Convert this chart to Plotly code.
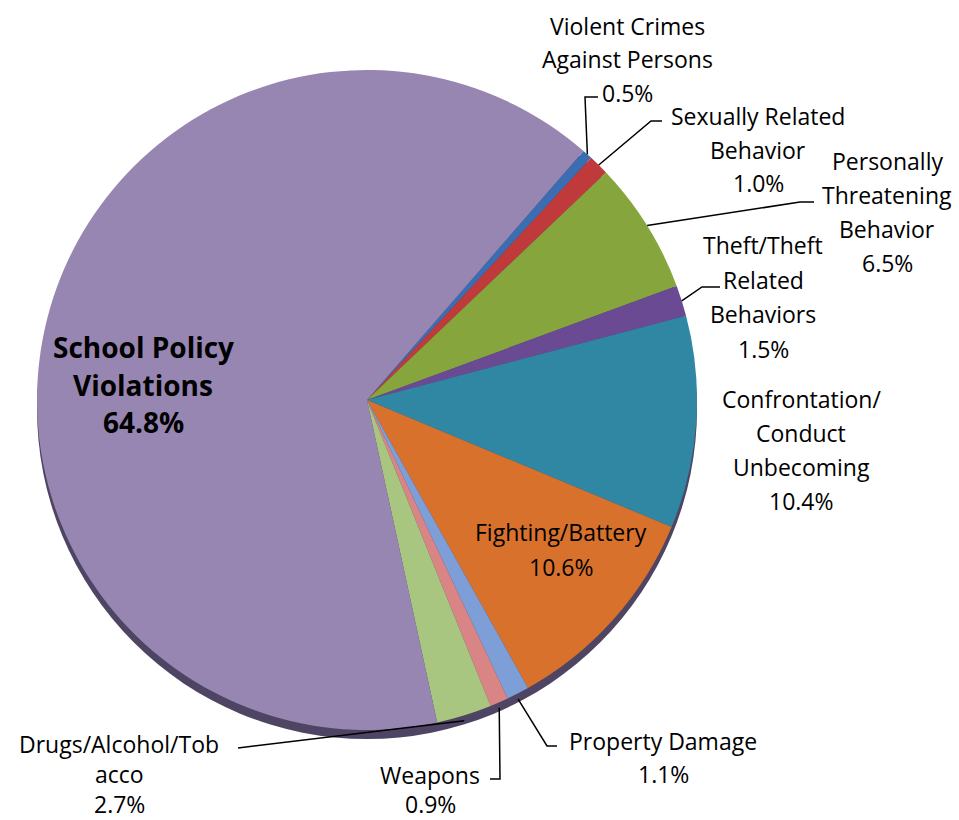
import math
import plotly.graph_objects as go

# ---------------- data ----------------
labels = [
    "Violent Crimes Against Persons",
    "Sexually Related Behavior",
    "Personally Threatening Behavior",
    "Theft/Theft Related Behaviors",
    "Confrontation/ Conduct Unbecoming",
    "Fighting/Battery",
    "Property Damage",
    "Weapons",
    "Drugs/Alcohol/Tobacco",
    "School Policy Violations",
]
values = [0.5, 1.0, 6.5, 1.5, 10.4, 10.6, 1.1, 0.9, 2.7, 64.8]
label_lines = [
    ["Violent Crimes", "Against Persons"],
    ["Sexually Related", "Behavior"],
    ["Personally", "Threatening", "Behavior"],
    ["Theft/Theft", "Related", "Behaviors"],
    ["Confrontation/", "Conduct", "Unbecoming"],
    ["Fighting/Battery"],
    ["Property Damage"],
    ["Weapons"],
    ["Drugs/Alcohol/Tob", "acco"],
    ["School Policy", "Violations"],
]
colors = ["#3B6DB3", "#C0393B", "#86A53D", "#6A4B93", "#2F87A4",
          "#D8712C", "#7D9ED6", "#D98485", "#A8C67F", "#9786B2"]

# ---------------- layout / geometry ----------------
W, H = 959, 820
CX, CY, R = 367, 400, 330
ROTATION = 41
RIM = 9
FONT = "Open Sans, Noto Sans, sans-serif"

def px(x):
    return x / W

def py(y):
    return 1 - y / H

# label blocks: (center x, first line y, line spacing, font size, bold)
label_layout = [
    (627, 26, 33.5, 23, False),
    (758, 116, 33.5, 23, False),
    (887, 161, 34, 23, False),
    (763, 245, 34.5, 23, False),
    (801, 399, 34, 23, False),
    (561, 532, 35, 23, False),
    (663, 741, 33, 23, False),
    (430, 775, 29, 23, False),
    (119, 744, 30, 23, False),
    (143, 347, 37.5, 28, True),
]
# leader elbows (pixels) per slice, None = no leader
leader_elbows = [
    [(585, 97), (598, 97)],
    [(651, 121), (662, 121)],
    [(800, 202), (814, 202)],
    [(702, 287), (720, 287)],
    None,
    None,
    [(547, 746), (557, 746)],
    [(500, 779), (490, 779)],
    [(238, 748)],
    None,
]

fig = go.Figure()
fig.add_trace(go.Pie(
    labels=labels, values=values, sort=False, direction="clockwise",
    rotation=ROTATION,
    marker=dict(colors=colors, line=dict(width=0)),
    textinfo="none", hoverinfo="label+percent", showlegend=False,
    domain=dict(x=[px(CX - R), px(CX + R)], y=[py(CY + R), py(CY - R)]),
))

shapes = []
# 3D rim beneath the pie
shapes.append(dict(type="circle", xref="paper", yref="paper", layer="below",
                   x0=px(CX - R), x1=px(CX + R), y0=py(CY + R + RIM), y1=py(CY - R + RIM),
                   fillcolor="#4E4463", line=dict(width=0)))

total = sum(values)
cum = 0.0
annotations = []
for i, v in enumerate(values):
    mid = math.radians(ROTATION + (cum + v / 2) / total * 360)
    cum += v
    cx, y0, sp, fs, bold = label_layout[i]
    lines = label_lines[i] + [f"{v:.1f}%"]
    for k, t in enumerate(lines):
        annotations.append(dict(
            x=px(cx), y=py(y0 + k * sp), xref="paper", yref="paper",
            text=f"<b>{t}</b>" if bold else t, showarrow=False,
            xanchor="center", yanchor="middle",
            font=dict(family=FONT, size=fs, color="black"),
        ))
    elb = leader_elbows[i]
    if elb:
        sx = CX + R * math.sin(mid)
        sy = CY - R * math.cos(mid)
        if math.cos(mid) < 0:
            sy += RIM * 0.6
        pts = [(sx, sy)] + elb
        path = "M " + " L ".join(f"{px(x)},{py(y)}" for x, y in pts)
        shapes.append(dict(type="path", xref="paper", yref="paper", path=path,
                           line=dict(color="black", width=1.5)))

fig.update_layout(
    width=W, height=H, margin=dict(l=0, r=0, t=0, b=0),
    paper_bgcolor="white", plot_bgcolor="white",
    shapes=shapes, annotations=annotations,
)
fig.write_html("out.html", config={"displayModeBar": False},
               post_script="document.body.style.margin='0';document.body.style.overflow='hidden';")
